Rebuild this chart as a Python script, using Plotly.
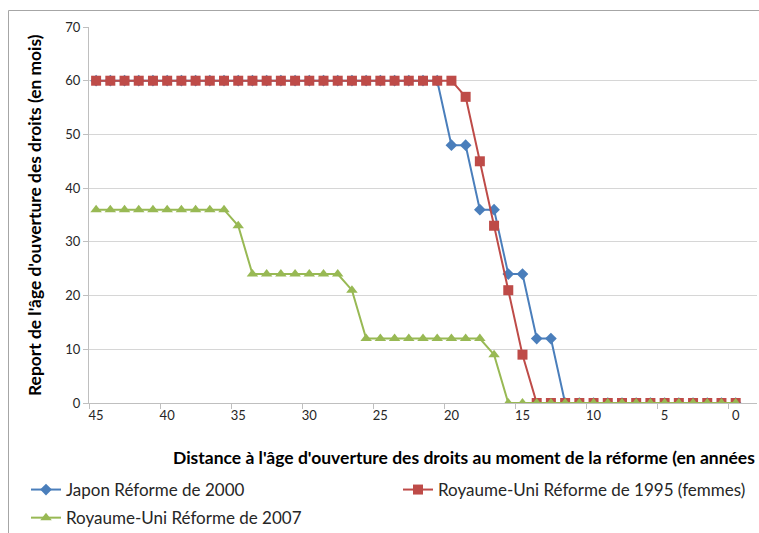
import plotly.graph_objects as go

years = list(range(45, -1, -1))
japon_2000 = [60]*25 + [48, 48, 36, 36, 24, 24, 12, 12] + [0]*13
ru_1995 = [60]*26 + [57, 45, 33, 21, 9] + [0]*15
ru_2007 = [36]*10 + [33] + [24]*7 + [21] + [12]*9 + [9] + [0]*17

x_tick_vals = [45, 40, 35, 30, 25, 20, 15, 10, 5, 0]
x_tick_text = [str(v) for v in x_tick_vals]

FONT = "Lato"
OFF = 0  # body margin removed below
W, H = 759, 533
L, R, T, B = 89, 2, 27, 130
pw, ph = W - L - R, H - T - B

fig = go.Figure()
fig.add_trace(go.Scatter(
    x=years, y=japon_2000, name="Japon Réforme de 2000", mode="lines+markers",
    line=dict(color="#4A7EBB", width=2), marker=dict(symbol="diamond", size=9, color="#4A7EBB"),
    legend="legend", legendgroup="a"))
fig.add_trace(go.Scatter(
    x=years, y=ru_1995, name="Royaume-Uni Réforme de 1995 (femmes)", mode="lines+markers",
    line=dict(color="#BE4B48", width=2), marker=dict(symbol="square", size=10, color="#BE4B48"),
    legend="legend2"))
fig.add_trace(go.Scatter(
    x=years, y=ru_2007, name="Royaume-Uni Réforme de 2007", mode="lines+markers",
    line=dict(color="#98B954", width=2), marker=dict(symbol="triangle-up", size=10, color="#98B954"),
    legend="legend", legendgroup="b"))

def px_x(p):
    return (p - OFF - L) / pw

def px_y(p):
    return (H - B - (p - OFF)) / ph

def cx(p):
    return (p - OFF) / W

def cy(p):
    return 1 - (p - OFF) / H

fig.update_layout(
    width=W, height=H,
    margin=dict(l=L, r=R, t=T, b=B, autoexpand=False),
    paper_bgcolor="white", plot_bgcolor="white",
    font=dict(family=FONT, size=14, color="#262626"),
    xaxis=dict(
        range=[45.5, -1.5], tickmode="array", tickvals=x_tick_vals, ticktext=x_tick_text,
        ticks="", showgrid=False, zeroline=False, showline=True, linecolor="#BFBFBF", linewidth=1,
        tickfont=dict(size=13, color="#262626"), automargin=False,
        minor=dict(tickvals=[45.5, 40.5, 35.5, 30.5, 25.5, 20.5, 15.5, 10.5, 5.5, 0.5],
                   ticks="outside", ticklen=5, tickcolor="#BFBFBF", showgrid=False),
    ),
    yaxis=dict(
        range=[0, 70], dtick=10, tick0=0, showgrid=True, gridcolor="#D6D6D6", gridwidth=1,
        zeroline=False, showline=True, linecolor="#BFBFBF", linewidth=1,
        ticks="outside", ticklen=5, tickcolor="#BFBFBF", automargin=False,
        tickfont=dict(size=13, color="#262626"),
    ),
    legend=dict(
        orientation="v", xref="container", yref="container",
        x=cx(26), xanchor="left", y=cy(472), yanchor="top",
        font=dict(size=17, color="#262626"), tracegroupgap=3, bgcolor="rgba(0,0,0,0)",
    ),
    legend2=dict(
        orientation="v", xref="container", yref="container",
        x=cx(398), xanchor="left", y=cy(472), yanchor="top",
        font=dict(size=17, color="#262626"), bgcolor="rgba(0,0,0,0)",
    ),
    annotations=[
        dict(
            text="<b>Distance à l'âge d'ouverture des droits au moment de la réforme (en années</b>",
            xref="paper", yref="paper", x=px_x(171), y=px_y(458), xanchor="left", yanchor="middle",
            showarrow=False, font=dict(size=17.5, color="#000000"),
        ),
        dict(
            text="<b>Report de l'âge d'ouverture des droits (en mois)</b>",
            xref="paper", yref="paper", x=px_x(34), y=px_y(215), xanchor="center", yanchor="middle",
            textangle=-90, showarrow=False, font=dict(size=17.4, color="#000000"),
        ),
    ],
    shapes=[
        dict(type="line", xref="paper", yref="paper",
             x0=px_x(8.5), x1=px_x(759), y0=px_y(10.5), y1=px_y(10.5),
             line=dict(color="#A6A6A6", width=1), layer="below"),
        dict(type="line", xref="paper", yref="paper",
             x0=px_x(8.5), x1=px_x(8.5), y0=px_y(10.5), y1=px_y(533),
             line=dict(color="#A6A6A6", width=1), layer="below"),
    ],
)

fig.write_html(
    "out.html",
    config={"displayModeBar": False},
    post_script="document.body.style.margin='0';document.body.style.overflow='hidden';",
)
